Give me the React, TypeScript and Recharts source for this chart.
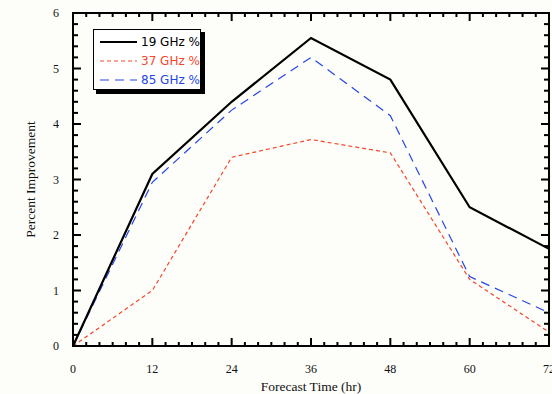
import React from 'react';
import { LineChart, Line, XAxis, YAxis } from 'recharts';

const hours = [0, 12, 24, 36, 48, 60, 72];
const ghz19 = [0, 3.1, 4.4, 5.55, 4.8, 2.5, 1.75];
const ghz37 = [0, 1.0, 3.4, 3.72, 3.48, 1.2, 0.25];
const ghz85 = [0, 2.95, 4.25, 5.2, 4.15, 1.25, 0.6];

const xLabels = [0, 12, 24, 36, 48, 60, 72];
const yLabels = [0, 1, 2, 3, 4, 5, 6];

const data = hours.map((h, i) => ({ h, g19: ghz19[i], g37: ghz37[i], g85: ghz85[i] }));

const xMinor = Array.from({ length: 37 }, (_, i) => i * 2);
const yMinor = Array.from({ length: 31 }, (_, i) => Math.round(i * 2) / 10);

const RED = '#f5462a';
const BLUE = '#2446e6';
const tickFont = { fontFamily: '"Liberation Serif", serif', fontSize: 12, fill: '#111' };

// plot box edges (from the chart margins / axis sizes below)
const PLOT_TOP = 13;
const PLOT_RIGHT = 549;

const isMajorX = (v: number) => xLabels.includes(v);
const isMajorY = (v: number) => yLabels.includes(v);

// bottom axis tick also mirrors its mark onto the top edge
const BottomTick = (p: any) => {
  const v = p.payload.value;
  const len = isMajorX(v) ? 8 : 4;
  return (
    <g>
      <rect x={p.x - 1} y={p.y - len} width={2} height={len} fill="#000" />
      <rect x={p.x - 1} y={PLOT_TOP} width={2} height={len} fill="#000" />
      {isMajorX(v) && (
        <text x={p.x} y={p.y + 27} textAnchor="middle" {...tickFont}>{v}</text>
      )}
    </g>
  );
};

// left axis tick also mirrors its mark onto the right edge
const LeftTick = (p: any) => {
  const v = p.payload.value;
  const len = isMajorY(v) ? 8 : 5;
  return (
    <g>
      <rect x={p.x} y={p.y - 1} width={len} height={2} fill="#000" />
      <rect x={PLOT_RIGHT - len} y={p.y - 1} width={len} height={2} fill="#000" />
      {isMajorY(v) && (
        <text x={p.x - 14} y={p.y + 4} textAnchor="end" {...tickFont}>{v}</text>
      )}
    </g>
  );
};

const legendItems = [
  { label: '19 GHz %', color: '#000', dash: undefined, width: 2 },
  { label: '37 GHz %', color: RED, dash: '4 3', width: 1.2 },
  { label: '85 GHz %', color: BLUE, dash: '9 6', width: 1.2 },
];

export default function App() {
  return (
    <div style={{ position: 'absolute', left: 0, top: 0, width: 552, height: 394, background: '#fdfdfa' }}>
      {/* plot frame */}
      <div
        style={{
          position: 'absolute',
          left: 72,
          top: 12,
          width: 478,
          height: 335,
          boxSizing: 'border-box',
          border: '2px solid #000',
        }}
      />
      {/* legend box with drop shadow */}
      <div style={{ position: 'absolute', left: 96, top: 32, width: 109, height: 62, background: '#000' }} />
      <div
        style={{
          position: 'absolute',
          left: 93,
          top: 29,
          width: 106,
          height: 59,
          background: '#fff',
          border: '1.5px solid #000',
        }}
      >
        <svg width={106} height={59}>
          {legendItems.map((it, i) => (
            <g key={it.label}>
              <line x1={6} x2={43} y1={12 + i * 19} y2={12 + i * 19} stroke={it.color} strokeWidth={it.width} strokeDasharray={it.dash} />
              <text x={47} y={16 + i * 19} fontFamily='"DejaVu Sans", sans-serif' fontSize={12} fill={it.color}>{it.label}</text>
            </g>
          ))}
        </svg>
      </div>
      <LineChart width={552} height={394} data={data} margin={{ top: PLOT_TOP, right: 552 - PLOT_RIGHT, left: 0, bottom: 0 }}>
        <XAxis
          dataKey="h"
          type="number"
          domain={[0, 72]}
          ticks={xMinor}
          interval={0}
          height={48}
          tickSize={0}
          tickMargin={0}
          axisLine={false}
          tickLine={false}
          tick={BottomTick}
          label={{ value: 'Forecast Time (hr)', position: 'insideBottom', offset: 3, style: { ...tickFont, fontSize: 13.5 } }}
        />
        <YAxis
          type="number"
          domain={[0, 6]}
          ticks={yMinor}
          interval={0}
          width={73}
          tickSize={0}
          tickMargin={0}
          axisLine={false}
          tickLine={false}
          tick={LeftTick}
          label={{ value: 'Percent Improvement', angle: -90, position: 'insideLeft', offset: 30, style: { ...tickFont, fontSize: 13.5, textAnchor: 'middle' } }}
        />
        <Line dataKey="g37" type="linear" stroke={RED} strokeWidth={1.2} strokeDasharray="4 3" dot={false} isAnimationActive={false} />
        <Line dataKey="g85" type="linear" stroke={BLUE} strokeWidth={1.2} strokeDasharray="9 6" dot={false} isAnimationActive={false} />
        <Line dataKey="g19" type="linear" stroke="#000" strokeWidth={2.2} dot={false} isAnimationActive={false} />
      </LineChart>
    </div>
  );
}
